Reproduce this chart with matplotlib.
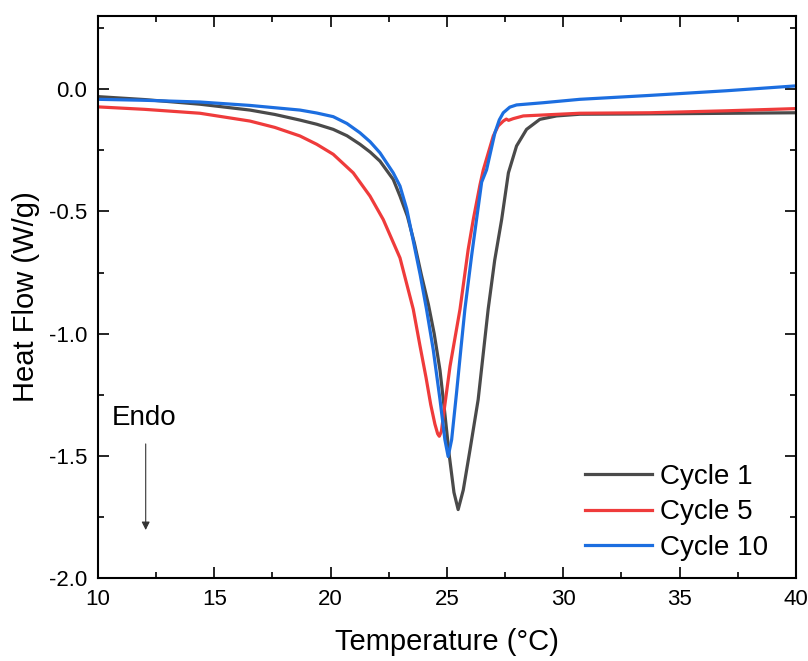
import matplotlib
matplotlib.use("Agg")
import matplotlib.pyplot as plt
from matplotlib.ticker import MultipleLocator, FormatStrFormatter

plt.rcParams['font.family'] = ['Liberation Sans', 'DejaVu Sans']
plt.rcParams['axes.unicode_minus'] = False

# Cycle 1
temp_c1 = [10, 12, 14.38, 16.53, 17.6, 18.68, 19.4, 20.11, 20.7, 21.26, 21.7, 22.12, 22.69,
           22.98, 23.3, 23.6, 23.9, 24.2, 24.45, 24.7, 24.9, 25.1, 25.3, 25.48, 25.70, 25.99,
           26.34, 26.77, 27.05, 27.35, 27.64, 27.99, 28.42, 28.99, 29.71, 30.71, 33, 36, 40]
flow_c1 = [-0.030, -0.042, -0.061, -0.085, -0.103, -0.126, -0.143, -0.164, -0.190, -0.225,
           -0.257, -0.294, -0.369, -0.437, -0.520, -0.630, -0.760, -0.880, -1.000, -1.150,
           -1.320, -1.500, -1.650, -1.720, -1.640, -1.475, -1.270, -0.900, -0.700, -0.533,
           -0.342, -0.232, -0.164, -0.123, -0.109, -0.102, -0.101, -0.099, -0.096]

# Cycle 5
temp_c5 = [10, 12, 14.38, 16.53, 17.6, 18.68, 19.4, 20.11, 20.97, 21.69, 22.26, 22.98,
           23.55, 23.84, 24.1, 24.3, 24.48, 24.60, 24.67, 24.76, 24.84, 25.13, 25.56, 25.91,
           26.13, 26.42, 26.56, 26.99, 27.2, 27.42, 27.55, 27.65, 27.85, 28.28, 30.71,
           33.72, 37, 40]
flow_c5 = [-0.072, -0.082, -0.098, -0.130, -0.156, -0.191, -0.225, -0.266, -0.342, -0.437,
           -0.533, -0.690, -0.900, -1.050, -1.180, -1.290, -1.370, -1.410, -1.420, -1.400,
           -1.340, -1.134, -0.900, -0.656, -0.533, -0.390, -0.330, -0.191, -0.150, -0.130,
           -0.122, -0.127, -0.120, -0.109, -0.098, -0.096, -0.088, -0.079]

# Cycle 10
temp_c10 = [10, 12, 14.38, 16.53, 18.68, 19.4, 20.11, 20.7, 21.26, 21.7, 22.12, 22.69,
            22.98, 23.27, 23.55, 23.85, 24.12, 24.41, 24.70, 24.91, 25.05, 25.20, 25.41,
            25.60, 25.77, 26.06, 26.27, 26.49, 26.70, 27.06, 27.25, 27.42, 27.7, 27.99,
            29.13, 30.71, 33.72, 37, 40]
flow_c10 = [-0.041, -0.045, -0.052, -0.066, -0.085, -0.097, -0.112, -0.140, -0.178, -0.215,
            -0.260, -0.342, -0.396, -0.490, -0.620, -0.760, -0.900, -1.066, -1.270, -1.434,
            -1.503, -1.434, -1.243, -1.060, -0.900, -0.680, -0.533, -0.380, -0.330, -0.178,
            -0.125, -0.096, -0.073, -0.064, -0.055, -0.041, -0.025, -0.006, 0.014]

labels = ['Cycle 1', 'Cycle 5', 'Cycle 10']
colors = ['#4a4a4a', '#ef3b3b', '#1c6ee0']

fig = plt.figure(figsize=(8.08, 6.61), dpi=100)
ax = fig.add_axes([0.1213, 0.1256, 0.8638, 0.8502])

for t, f, lab, c in zip([temp_c1, temp_c5, temp_c10], [flow_c1, flow_c5, flow_c10], labels, colors):
    ax.plot(t, f, color=c, lw=2.3, label=lab, solid_joinstyle='round')

ax.set_xlim(10, 40)
ax.set_ylim(-2.0, 0.3)
ax.xaxis.set_major_locator(MultipleLocator(5))
ax.xaxis.set_minor_locator(MultipleLocator(2.5))
ax.yaxis.set_major_locator(MultipleLocator(0.5))
ax.yaxis.set_minor_locator(MultipleLocator(0.25))
ax.yaxis.set_major_formatter(FormatStrFormatter('%.1f'))

ax.tick_params(which='both', direction='in', top=True, right=True, width=1.2, labelsize=16)
ax.tick_params(which='major', length=8)
ax.tick_params(which='minor', length=4)
ax.tick_params(axis='x', pad=8)
ax.tick_params(axis='y', pad=8)
for s in ax.spines.values():
    s.set_linewidth(1.5)

ax.set_xlabel('Temperature (°C)', fontsize=21, labelpad=13)
ax.set_ylabel('Heat Flow (W/g)', fontsize=21, labelpad=6)

ax.text(10.6, -1.345, 'Endo', fontsize=20, va='center', ha='left')
ax.annotate('', xy=(12.05, -1.815), xytext=(12.05, -1.44),
            arrowprops=dict(arrowstyle='-|>', color='#333333', lw=0.8, mutation_scale=12))

ax.legend(loc='lower right', frameon=False, fontsize=20, handlelength=2.4,
          handletextpad=0.3, labelspacing=0.35, borderaxespad=0.15,
          bbox_to_anchor=(0.982, 0.003))

fig.savefig('out.png', dpi=100)
